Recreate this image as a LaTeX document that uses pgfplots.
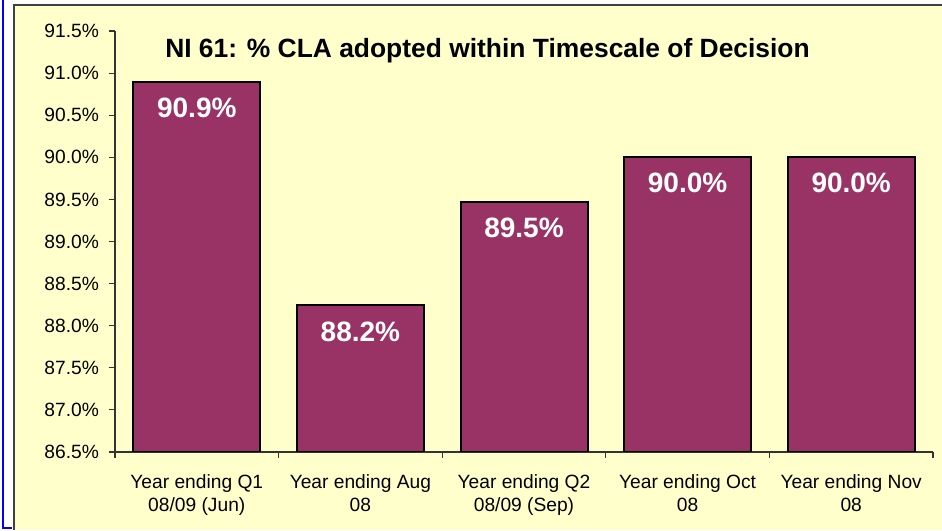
\documentclass[border=0pt]{standalone}
\usepackage{fontspec}
\setmainfont{Liberation Sans}
\usepackage{pgfplots}
\pgfplotsset{compat=1.18}
\definecolor{plum}{HTML}{993366}
\definecolor{chartbg}{HTML}{FFFFCC}
\definecolor{frameblue}{HTML}{0000FF}
\definecolor{axisgray}{HTML}{333333}

\begin{document}
\begin{tikzpicture}
% page and chart area (1px = 0.5pt)
\fill[white] (0,0) rectangle (471pt,265pt);
\fill[chartbg] (7pt,0) rectangle (471pt,262.5pt);
\draw[black!75,line width=1pt] (7pt,0) -- (7pt,262.5pt) -- (471pt,262.5pt);
\draw[frameblue,line width=0.8pt] (1.6pt,265pt) -- (1.6pt,1pt) -- (6pt,1pt);

\begin{axis}[
  at={(57.5pt,39pt)}, anchor=south west,
  scale only axis,
  width=409pt, height=210.5pt,
  ybar, bar width=63.5pt,
  xmin=-0.5, xmax=4.5,
  ymin=86.5, ymax=91.5,
  axis x line*=bottom, axis y line*=left,
  axis line style={axisgray,line width=0.6pt,-},
  tick style={axisgray,line width=0.6pt},
  tick align=outside,
  major tick length=3pt,
  xtick={0,1,2,3,4},
  xtick style={draw=none},
  xticklabels={{Year ending Q1\\08/09 (Jun)},{Year ending Aug\\08},
               {Year ending Q2\\08/09 (Sep)},{Year ending Oct\\08},
               {Year ending Nov\\08}},
  xticklabel style={font=\fontsize{9.6}{11.5}\selectfont,align=center,
                    text=black,yshift=-5pt},
  extra x ticks={-0.5,0.5,1.5,2.5,3.5,4.5},
  extra x tick labels={},
  extra x tick style={xtick style={draw=axisgray}},
  ytick={86.5,87,...,91.5},
  yticklabel style={font=\fontsize{9.6}{11.5}\selectfont,text=black,xshift=-1.5pt,
    /pgf/number format/.cd,fixed,fixed zerofill,precision=1,assume math mode=true},
  yticklabel={\pgfmathprintnumber{\tick}\%},
  nodes near coords={\pgfmathprintnumber[fixed,fixed zerofill,precision=1]{\pgfplotspointmeta}\%},
  nodes near coords align={below},
  every node near coord/.append style={font=\bfseries\fontsize{14}{16}\selectfont,
    text=white,anchor=north,inner sep=0pt,yshift=-7.5pt,
    /pgf/number format/assume math mode=true},
]
\addplot[fill=plum,draw=black,line width=1pt] coordinates {
  (0,90.9) (1,88.24) (2,89.47) (3,90.0) (4,90.0)};
\end{axis}

\node[anchor=base,font=\bfseries\fontsize{13.2}{15}\selectfont]
  at (243.75pt,236pt) {NI 61: \% CLA adopted within Timescale of Decision};

\pgfresetboundingbox
\path[use as bounding box] (0,0) rectangle (471pt,265pt);
\end{tikzpicture}
\end{document}
